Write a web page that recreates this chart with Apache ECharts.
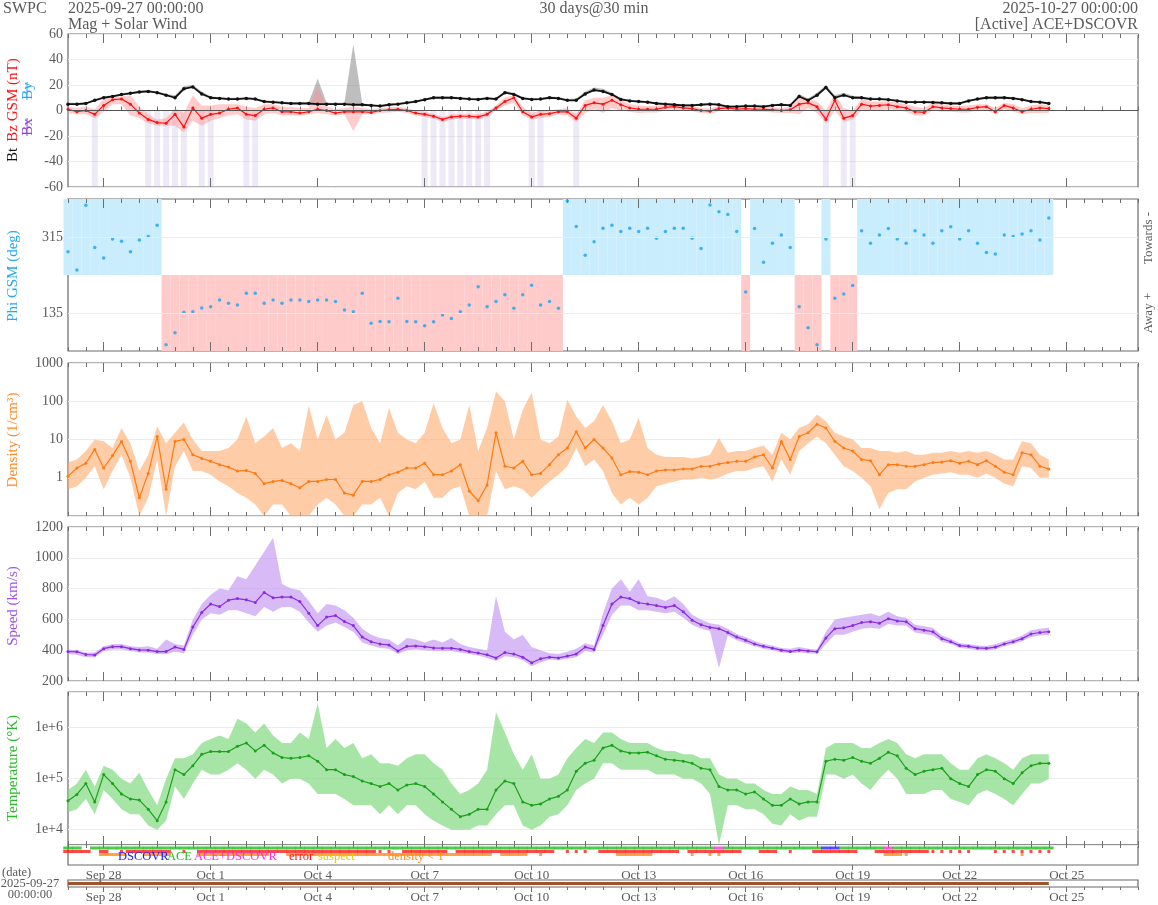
<!DOCTYPE html>
<html><head><meta charset="utf-8">
<script src="https://cdn.jsdelivr.net/npm/echarts@6/dist/echarts.min.js"></script>
<style>html,body{margin:0;padding:0;background:#fff}#c{width:1158px;height:905px}</style>
</head><body><div id="c"></div>
<script>
// ---- time base (6-hour samples) ----
const startTime = Date.UTC(2025, 8, 27, 0, 0, 0);
const endTime = Date.UTC(2025, 9, 27, 0, 0, 0);
const stepHours = 6;
const tickDates = ['2025-09-28','2025-10-01','2025-10-04','2025-10-07','2025-10-10','2025-10-13','2025-10-16','2025-10-19','2025-10-22','2025-10-25'];
const tickLabels = ['Sep 28','Oct 1','Oct 4','Oct 7','Oct 10','Oct 13','Oct 16','Oct 19','Oct 22','Oct 25'];

// ---- magnetic field (nT) ----
const bt = [5,5,5.5,8,10,11,12.5,13.5,14.5,15,
14,12,10,17,18.5,13,10,9.5,9,9,
9.5,9,7,6.5,6,5.5,5.5,5.5,5,5,
5,5,4.5,4.5,4,3.5,4.5,5,6,7,
8.5,10,10,10,9.5,9,8.7,9.5,9,14,
12.6,9.5,8.7,9,10,9.5,8,8,13,16,
15,12.5,8.7,7.5,7,6.5,5.5,5,4.5,4,
4,4.5,5,4.5,3,3,3.5,3.5,3,4,
4.5,4,11,8,12,18,10,12,10,10,
9,9,8.5,7.5,6.5,6.5,6.5,6.3,6,5.5,
5.5,7.5,9,10,10,10,9.5,8.5,7,6.5,
5.5];
const btHi = [6,6,6.5,9,11,12,13.5,14.5,15.5,16,
15,13,12,19,20,15,11,10.5,10,10,
10.5,10,8,7.5,7,6.5,6.5,6.5,25,6,
6,6,52,5.5,5,4.5,5.5,6,7,8,
9.5,11,11,11,10.5,10,9.7,10.5,10,15.5,
14,10.5,9.7,10,11,10.5,9,9.5,15,18,
17,14,9.7,8.5,8,7.5,6.5,6,5.5,5,
5,5.5,6,5.5,4,4,4.5,4.5,4,5,
5.5,5,13,9.5,14,20,12,14,11.5,11,
10,10,9.5,8.5,7.5,7.5,7.5,7.3,7,6.5,
6.5,8.5,10,11,11,11,10.5,9.5,8,7.5,
6.5];
const bz = [1,-1,0,-3,4,8.5,9,5,-2,-7,
-9.5,-10,-3,-13,2,-6,-3,-2,1,2,
-3,-4,1,2,-1,-1,-2,-1,1,0,
-2,-1,-1,-1,-1.5,0,0.5,1,0,-2,
-3,-4.5,-7,-5,-4.5,-4.5,-5,-3,2,7,
10,-1,-5,-3,-2.5,-1,-1,-6,4,6,
5,8,4.5,2,1,1,1,2.5,3,2,
1.5,0,-0.5,1.5,2,1,1.5,1,1,0.5,
0,0.5,5,6,3,-7,8,-6,-4,5,
3.5,4,4.5,3,2,-1,-1.5,3,2,1.5,
1,1,2.5,3,-1,4,2,-1,1,2,
1.5];
const bzLo = [-2,-3,-3,-6,-1,5,5,-4,-6,-10,
-12,-12,-12,-17,-8,-12,-8,-6,-4,-3,
-7,-8,-3,-2,-4,-4,-4,-3,-2,-3,
-4,-3,-16,-3,-3,-2,-1.5,-1,-2,-4,
-5,-6.5,-9,-7,-6.5,-6.5,-7,-5,0,4,
6,-4,-7,-6,-5,-3,-4,-9,-2,1,
-2,2,0,-1,-2,-1.5,-1.5,0,0.5,0,
-0.5,-2,-2.5,-0.5,0,-1,-0.5,-1,-1,-1.5,
-2,-2,-3,2,-2,-10,0,-9,-7,0,
0,0,1,0,-1,-4,-4,0,-1,-1,
-1.5,-1.5,0,0,-3,1,-1,-3,-2,-2,
-2];
const bzHi = [3,2,3,1,9,11,11,12,3,-3,
-7,-6,2,-2,12,4,4,5,5,5,
3,2,5,5,3,3,2,2,19,3,
1,2,3,2,1,2,2.5,3,2,0,
-1,-2.5,-5,-3,-2.5,-2.5,-3,-1,4,10,
12,3,-2,0,0,1,2,-3,8,10,
10,12,8,5,4,3.5,3.5,5,5,4,
3.5,2,1.5,3.5,4,3,3.5,3,3,2.5,
2,3,10,9,7,0,13,2,0,9,
7,7,7,6,5,3,2,6,5,4,
3.5,4,5,5,2,6,5,2,4,5,
4];

// ---- Phi GSM (deg) ----
const phi = [280,237,390,290,265,310,305,280,308,316,
343,60,88,137,138,147,150,166,158,154,
182,182,158,166,158,166,166,162,166,166,
162,142,138,182,111,115,114,170,115,114,
105,114,130,122,138,154,197,150,162,178,
146,178,201,154,162,146,400,340,272,304,
336,343,328,336,328,336,312,328,336,336,
312,288,391,375,368,328,185,335,255,300,
320,290,150,100,60,310,170,180,200,330,
300,320,335,310,300,330,320,300,330,339,
310,330,300,278,275,320,316,322,330,308,
360];

// ---- Density (1/cm3) ----
const dens = [1.1,1.8,2.4,5.5,1.8,3.8,8.9,2.7,0.3,1.3,
12,0.5,8.9,10,4,3.2,2.7,2.2,1.9,1.5,
1.55,1.3,0.7,0.8,0.85,0.7,0.55,0.8,0.8,0.9,
0.9,0.4,0.35,0.8,0.8,0.9,1.2,1.4,1.8,1.8,
2.4,1.2,1.2,1.5,2.2,0.45,0.25,0.65,15,2,
1.8,2.7,1.2,1.3,2.2,4,6,16,6,10,
6,3.3,1.2,1.45,1.4,1.2,1.5,1.6,1.6,1.7,
1.7,2,2,2.3,2.5,2.7,2.7,3.5,4,1.8,
8.9,3,12,15,25,20,9,6,5,3,
2.8,1.2,2.2,2.2,2,2,2.2,2.5,2.6,2.8,
2.4,2.7,2.2,2.8,2,1.4,1.2,4.5,4,2,
1.7];
const densLo = [0.5,0.6,1,2,0.5,1.5,4,1,0.1,0.3,
3,0.1,2,5,1.5,1.5,1.2,0.8,0.6,0.4,
0.3,0.2,0.1,0.2,0.2,0.1,0.1,0.1,0.2,0.3,
0.2,0.1,0.1,0.2,0.2,0.3,0.1,0.4,0.6,0.5,
0.8,0.3,0.3,0.5,0.6,0.1,0.1,0.1,1.5,0.5,
0.6,0.5,0.3,0.5,0.8,1.2,2,6,2,3,
1.5,0.4,0.2,0.3,0.2,0.3,0.6,0.7,0.8,0.9,
0.9,1,0.9,1,1.3,1.5,1.5,1.8,2,0.8,
3,1.2,5,8,12,8,4,2,1.5,1,
0.6,0.15,0.4,0.5,0.5,0.8,1,1.2,1.3,1.4,
1.2,1.2,1,1.3,1,0.7,0.6,2,1.8,1,
1];
const densHi = [2.5,3,5,10,9,6,20,8,1.5,4,
22,8,15,28,10,5,5,5,6,10,
40,8,12,20,6,8,5,76,10,44,
10,15,80,100,20,8,67,15,10,8,
15,90,20,8,10,80,5,20,180,100,
10,60,170,10,8,12,110,40,20,30,
80,30,8,10,37,6,4,3.5,3.5,3.5,
3.2,3.5,4,11,4.5,5,5,6,7,4,
15,10,20,25,45,30,15,12,10,6,
6,5,5,4.5,5,4,4,4.5,4.5,5,
4.5,5,4.5,5,4,3,3,9,8,4,
3];

// ---- Speed (km/s) ----
const speed = [391,390,372,369,410,423,423,410,402,400,
391,391,420,405,550,645,700,683,725,735,
727,710,775,740,745,745,716,640,560,615,
625,586,560,485,455,440,434,395,425,428,
423,415,413,413,405,391,382,370,350,385,
375,355,318,345,355,350,362,375,420,405,
560,700,745,735,708,700,690,678,690,650,
595,565,548,540,515,485,465,440,425,413,
400,392,400,395,390,480,540,545,560,580,
585,575,605,590,585,540,530,520,475,455,
430,425,415,412,420,440,455,475,505,515,
520];
const speedLo = [375,370,355,355,395,405,405,395,385,385,
375,375,390,380,500,600,640,630,660,660,
640,620,680,650,680,680,650,580,520,560,
580,550,520,450,430,415,410,375,400,405,
400,395,395,395,385,375,365,350,330,360,
355,335,295,320,340,335,345,355,395,385,
500,630,690,690,660,660,650,640,650,610,
565,540,525,285,495,465,445,425,410,400,
385,380,385,380,375,440,500,500,520,540,
545,540,570,560,560,515,505,495,455,440,
415,410,400,398,405,425,440,458,485,495,
500];
const speedHi = [405,400,385,385,425,440,440,425,420,425,
410,470,440,430,600,700,760,800,790,880,
860,950,1040,1130,830,800,790,720,640,700,
690,660,610,540,500,480,470,430,480,470,
450,470,450,480,440,420,410,400,750,520,
470,500,420,400,380,375,390,410,445,430,
640,800,860,780,860,750,740,720,750,700,
630,600,575,565,540,505,485,460,440,430,
415,410,420,410,405,520,600,610,620,630,
640,620,650,620,610,565,555,545,495,475,
445,440,430,428,438,458,472,495,530,540,
545];

// ---- Temperature (K) ----
const temp = [3.7e4,4.9e4,8e4,3.5e4,1.2e5,8e4,5e4,4e4,3.8e4,2.5e4,
1.5e4,3.5e4,1.5e5,1.2e5,1.8e5,3e5,3.4e5,3.4e5,3.4e5,4.3e5,
5e5,3.5e5,4.5e5,3.2e5,2.6e5,2.5e5,2.6e5,2.8e5,2.2e5,1.5e5,
1.5e5,1.2e5,1.1e5,9e4,8e4,7e4,8e4,6e4,7.5e4,8e4,
7e4,5e4,3.5e4,2.5e4,1.8e4,2e4,2.5e4,2.5e4,6e4,9e4,
8e4,3.5e4,3e4,3.2e4,4e4,4.5e4,6e4,1.4e5,2e5,2.3e5,
4e5,4.5e5,3.5e5,3.2e5,3.2e5,3.3e5,2.8e5,2.4e5,2.3e5,2.2e5,
2e5,1.6e5,1.5e5,7e4,6e4,6e4,5e4,5.5e4,4e4,3e4,
3e4,4e4,3.2e4,3.5e4,3.5e4,2.2e5,2.4e5,2.3e5,2.6e5,2.2e5,
2e5,2.5e5,3.3e5,2.8e5,1.6e5,1.2e5,1.4e5,1.5e5,1.6e5,1e5,
8e4,7e4,1.2e5,1.5e5,1.4e5,1e5,8e4,1.3e5,1.8e5,2e5,
2e5];
const tempLo = [2.2e4,2.5e4,4e4,2e4,6e4,4e4,2.5e4,2e4,2e4,1.2e4,
1e4,1.5e4,7e4,4e4,8e4,1.5e5,1.2e5,1.2e5,1.5e5,2e5,
1.5e5,1e5,1.5e5,1.2e5,8e4,1e5,1e5,8e4,5e4,5e4,
5e4,4e4,3e4,3e4,3e4,2e4,3e4,2e4,3e4,3e4,
2e4,1.5e4,1.2e4,1e4,1e4,1e4,1.2e4,1.2e4,2e4,3e4,
3e4,1.2e4,1e4,1.2e4,1.8e4,2e4,3e4,6e4,8e4,1e5,
2e5,2e5,1.5e5,1.5e5,1.5e5,1.5e5,1.2e5,1.2e5,1.2e5,1e5,
1e5,8e4,5e4,5000,3e4,3e4,2.5e4,2.5e4,2e4,1.3e4,
1.2e4,2e4,1.5e4,1.8e4,1.8e4,1.2e5,1.2e5,1e5,1.2e5,8e4,
6e4,1e5,1.5e5,1e5,5e4,5e4,5e4,6e4,6e4,4e4,
3.5e4,3e4,5e4,6e4,5e4,4e4,3e4,5e4,8e4,8e4,
1e5];
const tempHi = [6e4,8e4,1.5e5,7e4,1.8e5,1.5e5,1e5,8e4,1.3e5,6e4,
3e4,1e5,2.5e5,2.5e5,3e5,5e5,6e5,7e5,6e5,1.5e6,
1.2e6,8e5,1.2e6,7e5,5e5,5e5,8e5,6e5,3e6,4e5,
6e5,4e5,5e5,2.5e5,3e5,2e5,2e5,1.8e5,2.5e5,3e5,
3e5,2e5,1.5e5,8e4,5e4,6e4,8e4,1.5e5,2e6,8e5,
3e5,1.5e5,3e5,1e5,1e5,1.2e5,2.5e5,4e5,6e5,5e5,
8e5,8e5,6e5,5e5,5e5,5e5,4e5,3.5e5,3.5e5,3e5,
3e5,2.5e5,2.5e5,1.2e5,1e5,1e5,8e4,8e4,6e4,5e4,
5e4,7e4,6e4,6e4,5e4,4e5,5e5,5e5,5e5,4e5,
4e5,5e5,6e5,5e5,3e5,2.5e5,3e5,3e5,3e5,2e5,
1.5e5,1.5e5,2.5e5,3e5,2.5e5,2e5,1.5e5,2.5e5,3e5,3e5,
3e5];

// ---- status flags: source 1=ACE 2=DSCOVR 3=ACE+DSCOVR; error/density 1=dense 2=sparse ----
const srcFlag = [1,1,0,1,1,1,1,1,1,1,
1,1,1,1,1,1,1,1,1,1,
1,1,1,1,1,1,1,1,1,1,
1,1,1,1,1,1,1,1,1,1,
1,1,1,1,1,1,1,1,1,1,
1,1,1,1,1,1,1,1,1,1,
1,1,1,1,1,1,1,1,1,1,
1,1,1,3,1,1,1,1,1,1,
1,1,1,1,1,2,2,1,1,1,
1,1,3,1,1,1,1,1,1,1,
1,1,1,1,1,1,1,1,1,1,
1];
const errFlag = [1,1,1,0,1,0,2,1,1,1,
1,1,0,2,0,1,1,1,1,1,
1,1,1,1,1,1,1,1,1,1,
1,1,1,1,1,2,2,0,1,1,
1,1,1,0,1,1,1,1,1,1,
1,1,1,1,1,0,2,2,2,0,
1,1,1,1,1,1,1,1,1,0,
1,1,1,1,1,1,0,0,1,1,
0,2,0,0,1,1,1,1,1,0,
0,1,1,1,1,1,1,2,2,2,
2,2,0,0,2,2,2,2,2,2,
2];
const densFlag = [0,0,0,0,1,1,1,0,0,1,
1,1,0,0,0,1,1,1,1,1,
1,1,1,0,0,1,1,1,1,1,
1,1,1,1,1,1,1,1,1,1,
1,1,1,1,1,1,1,1,0,1,
1,1,0,2,0,0,0,0,0,0,
0,0,1,1,1,1,0,0,0,0,
2,0,2,2,0,0,0,0,0,0,
0,0,0,0,0,0,0,0,0,0,
0,0,1,1,2,0,0,0,0,0,
0,0,0,0,0,0,0,2,0,0,
0];

const all = {bt,btHi,bz,bzLo,bzHi,phi,dens,densLo,densHi,speed,speedLo,speedHi,temp,tempLo,tempHi,srcFlag,errFlag,densFlag};
for (const k in all) if (all[k].length !== bt.length) throw new Error(k + ' length ' + all[k].length);

// ---- build chart ----
const FONT = 'Liberation Serif';
const GRAY = '#5a5a5a';
const HOUR = 3600000;
const pad2 = n => String(n).padStart(2, '0');
const slotCount = Math.round((endTime - startTime) / (stepHours * HOUR)) + 1;  // category slots spanning whole window
const slots = [];
for (let i = 0; i < slotCount; i++) {
  const d = new Date(startTime + i * stepHours * HOUR);
  slots.push(d.getUTCFullYear() + '-' + pad2(d.getUTCMonth() + 1) + '-' + pad2(d.getUTCDate()) + ' ' + pad2(d.getUTCHours()) + ':00');
}
const majorIdx = tickDates.map(d => slots.indexOf(d + ' 00:00'));
const isMajor = i => majorIdx.indexOf(i) >= 0;

const gridDefs = [[34,153],[199,152],[363,153],[527,154],[692,153],[845,20],[880,7]];
const grid = gridDefs.map(([top, height]) => ({left:68, right:20, top, height, show:true, borderColor:'#6a6a6a', borderWidth:1.2, backgroundColor:'#fff'}));

const xAxis = [];
grid.forEach((g, gi) => {
  const inside = gi < 5;
  const base = {gridIndex: gi, type:'category', data: slots, boundaryGap:false, axisLine:{show:false}, splitLine:{show:false}, axisLabel:{show:false}};
  const tickStyle = {color:'#6e6e6e', width:1};
  xAxis.push(Object.assign({}, base, {position:'bottom',
    axisTick:{show:true, inside, length: inside?4:3, interval:1, lineStyle:tickStyle}}));
  xAxis.push(Object.assign({}, base, {position:'bottom',
    axisTick:{show:true, inside, length: inside?9:5, interval: i => isMajor(i), lineStyle:tickStyle},
    axisLabel: gi >= 5 ? {show:true, interval: i => isMajor(i), color:GRAY, fontFamily:FONT, fontSize:13, margin: 4,
      formatter: (v) => { const k = tickDates.indexOf(String(v).slice(0, 10)); return k >= 0 ? tickLabels[k] : ''; }} : {show:false}}));
  xAxis.push(Object.assign({}, base, {position:'top',
    axisTick:{show:inside, inside:true, length:4, interval:1, lineStyle:tickStyle}}));
  xAxis.push(Object.assign({}, base, {position:'top',
    axisTick:{show:inside, inside:true, length:9, interval: i => isMajor(i), lineStyle:tickStyle}}));
});

const lab = extra => Object.assign({color:GRAY, fontFamily:FONT, fontSize:14, margin:5, formatter: v => String(v)}, extra || {});
const split = {show:true, lineStyle:{color:'#ededed', width:1}};
const yBase = gi => ({gridIndex:gi, axisLine:{show:false}, axisTick:{show:false}, splitLine:split});
const isPow = v => { const e = Math.log10(v); return Math.abs(e - Math.round(e)) < 1e-6; };
const yAxis = [
  Object.assign(yBase(0), {type:'value', min:-60, max:60, interval:20, axisLabel:lab()}),
  Object.assign(yBase(1), {type:'value', min:45, max:405, splitLine:{show:false}, axisLabel:lab({customValues:[135,315]})}),
  Object.assign(yBase(2), {type:'log', logBase:10, min:0.1, max:1000, axisLabel:lab({showMinLabel:false, formatter: v => (v >= 1 && isPow(v)) ? String(Math.round(v)) : ''})}),
  Object.assign(yBase(3), {type:'value', min:200, max:1200, interval:200, axisLabel:lab()}),
  Object.assign(yBase(4), {type:'log', logBase:10, min:5000, max:5e6, axisLabel:lab({showMinLabel:false, showMaxLabel:false, formatter: v => isPow(v) ? '1e+' + Math.round(Math.log10(v)) : ''})}),
  {gridIndex:5, type:'value', min:0, max:20, inverse:true, show:false},
  {gridIndex:6, type:'value', min:0, max:2, show:false}
];

const series = [];
function band(name, gi, lo, hi, color) {
  series.push({type:'line', name:name+'lo', xAxisIndex:gi*4, yAxisIndex:gi, stack:name, stackStrategy:'all',
    data: lo.slice(), symbol:'none', lineStyle:{opacity:0}, silent:true, z:1});
  series.push({type:'line', name:name+'hi', xAxisIndex:gi*4, yAxisIndex:gi, stack:name, stackStrategy:'all',
    data: hi.map((v, i) => v - lo[i]), symbol:'none', lineStyle:{opacity:0},
    areaStyle:{color, opacity:1}, silent:true, z:1});
}
function pts(gi, arr, color, size, w, extra) {
  series.push(Object.assign({type:'line', xAxisIndex:gi*4, yAxisIndex:gi, data: arr.slice(), symbol:'circle', symbolSize:size,
    showAllSymbol:true, itemStyle:{color}, lineStyle:{color, width:w}, z:3, silent:true}, extra || {}));
}

// Mag panel
series.push({type:'bar', xAxisIndex:0, yAxisIndex:0, barWidth:6, silent:true, z:0,
  data: bz.map(v => v <= -3 ? -60 : '-'), itemStyle:{color:'rgba(165,145,215,0.2)'}});
band('bt', 0, bt, btHi, 'rgba(110,110,110,0.45)');
band('bz', 0, bzLo, bzHi, 'rgba(255,140,140,0.45)');
pts(0, bz, '#ff1010', 3, 1.2, {markLine:{silent:true, symbol:'none', label:{show:false},
  lineStyle:{color:'#555', width:1, type:'solid'}, data:[{yAxis:0}]}});
pts(0, bt, '#111', 3.5, 1.8);

// Phi panel
series.push({type:'bar', xAxisIndex:4, yAxisIndex:1, stack:'sector', barWidth:9, silent:true, z:0,
  data: phi.map(v => ({value:225, itemStyle:{color: v > 225 ? 'rgba(0,0,0,0)' : '#ffcaca'}}))});
series.push({type:'bar', xAxisIndex:4, yAxisIndex:1, stack:'sector', barWidth:9, silent:true, z:0,
  data: phi.map(v => v > 225 ? 180 : 0), itemStyle:{color:'#caedfd'}});
series.push({type:'scatter', xAxisIndex:4, yAxisIndex:1, data: phi.slice(), symbol:'circle', symbolSize:3.5,
  itemStyle:{color:'#19a3f0'}, z:3, silent:true,
  markLine:{silent:true, symbol:'none', label:{show:false}, lineStyle:{color:'#ececec', width:1, type:'solid'}, data:[{yAxis:135},{yAxis:315}]}});

// Density
band('dn', 2, densLo, densHi, 'rgba(255,170,110,0.6)');
pts(2, dens, '#ff7a10', 3, 1.2);
// Speed
band('sp', 3, speedLo, speedHi, 'rgba(190,140,240,0.6)');
pts(3, speed, '#8a2be2', 3, 1.2);
// Temperature
band('tp', 4, tempLo, tempHi, 'rgba(120,215,120,0.65)');
pts(4, temp, '#1aa01a', 3, 1.2);

// Status panel
const srcColors = {1:'#1fbf1f', 2:'#2020ff', 3:'#ff30d0'};
const rectSize = v => v[2] === 2 ? [3, 3] : [9.5, 3];
series.push({type:'scatter', xAxisIndex:20, yAxisIndex:5, symbol:'rect', symbolSize: rectSize, silent:true, z:3,
  data: srcFlag.map((v, i) => v ? {value:[i, 3, 1], itemStyle:{color:srcColors[v]}} : null).filter(Boolean)});
series.push({type:'scatter', xAxisIndex:20, yAxisIndex:5, symbol:'rect', symbolSize: rectSize, silent:true, z:2,
  data: errFlag.map((v, i) => v ? [i, 6.5, v] : null).filter(Boolean), itemStyle:{color:'#ff1a1a'}});
series.push({type:'scatter', xAxisIndex:20, yAxisIndex:5, symbol:'rect', symbolSize: rectSize, silent:true, z:2,
  data: densFlag.map((v, i) => v ? [i, 9.5, v] : null).filter(Boolean), itemStyle:{color:'#ff8c1a'}});

// Date strip (coverage of the data)
series.push({type:'line', xAxisIndex:24, yAxisIndex:6, data: bt.map(() => 1), symbol:'none',
  lineStyle:{color:'#a0522d', width:3}, silent:true});

// ---- texts ----
function txt(x, y, text, o) {
  o = o || {};
  const al = o.align || 'left';
  return {type:'text', x, y, rotation: o.rot || 0, z:10, silent:true,
    style:{text, fill:o.color || GRAY, font: (o.size || 14) + 'px "' + FONT + '"',
      align:al, textAlign:al, verticalAlign:'middle', textVerticalAlign:'middle'}};
}
const R = Math.PI / 2;
const graphic = [
  txt(3, 9, 'SWPC', {size:16}),
  txt(68, 9, '2025-09-27 00:00:00', {size:16}),
  txt(68, 25, 'Mag + Solar Wind', {size:16}),
  txt(594, 9, '30 days@30 min', {size:16, align:'center'}),
  txt(1138, 9, '2025-10-27 00:00:00', {size:16, align:'right'}),
  txt(1138, 25, '[Active] ACE+DSCOVR', {size:16, align:'right'}),
  txt(13, 155, 'Bt', {size:15, color:'#111', rot:R, align:'center'}),
  txt(13, 100, 'Bz GSM (nT)', {size:15, color:'#ff1010', rot:R, align:'center'}),
  txt(28, 127, 'Bx', {size:15, color:'#9040e0', rot:R, align:'center'}),
  txt(28, 91, 'By', {size:15, color:'#22a8f0', rot:R, align:'center'}),
  {type:'line', silent:true, z:11, shape:{x1:27, y1:118, x2:27, y2:136}, style:{stroke:'#9040e0', lineWidth:1}},
  {type:'line', silent:true, z:11, shape:{x1:27, y1:82, x2:27, y2:100}, style:{stroke:'#22a8f0', lineWidth:1}},
  txt(13, 276, 'Phi GSM (deg)', {size:15, color:'#22a8f0', rot:R, align:'center'}),
  txt(13, 440, 'Density (1/cm³)', {size:15, color:'#ff8a25', rot:R, align:'center'}),
  txt(13, 606, 'Speed (km/s)', {size:15, color:'#9d55e8', rot:R, align:'center'}),
  txt(13, 768, 'Temperature (°K)', {size:15, color:'#2cb82c', rot:R, align:'center'}),
  txt(1149, 238, 'Towards -', {size:13, rot:R, align:'center'}),
  txt(1149, 313, 'Away +', {size:13, rot:R, align:'center'}),
  txt(118, 857, 'DSCOVR', {size:12.5, color:'#1a1aff'}),
  txt(167, 857, 'ACE', {size:12.5, color:'#1fbf1f'}),
  txt(194, 857, 'ACE+DSCOVR', {size:12.5, color:'#ff30d0'}),
  txt(289, 857, 'error', {size:12.5, color:'#ff1a1a'}),
  txt(318, 857, 'suspect', {size:12.5, color:'#f0c800'}),
  txt(388, 857, 'density < 1', {size:12.5, color:'#ff8c1a'}),
  txt(2, 873, '(date)', {size:12.5}),
  txt(30, 884, '2025-09-27', {size:12.5, align:'center'}),
  txt(30, 895, '00:00:00', {size:12.5, align:'center'})
];

const chart = echarts.init(document.getElementById('c'), null, {renderer:'canvas'});
chart.setOption({animation:false, backgroundColor:'#fff', grid, xAxis, yAxis, series, graphic});
</script>
</body></html>
